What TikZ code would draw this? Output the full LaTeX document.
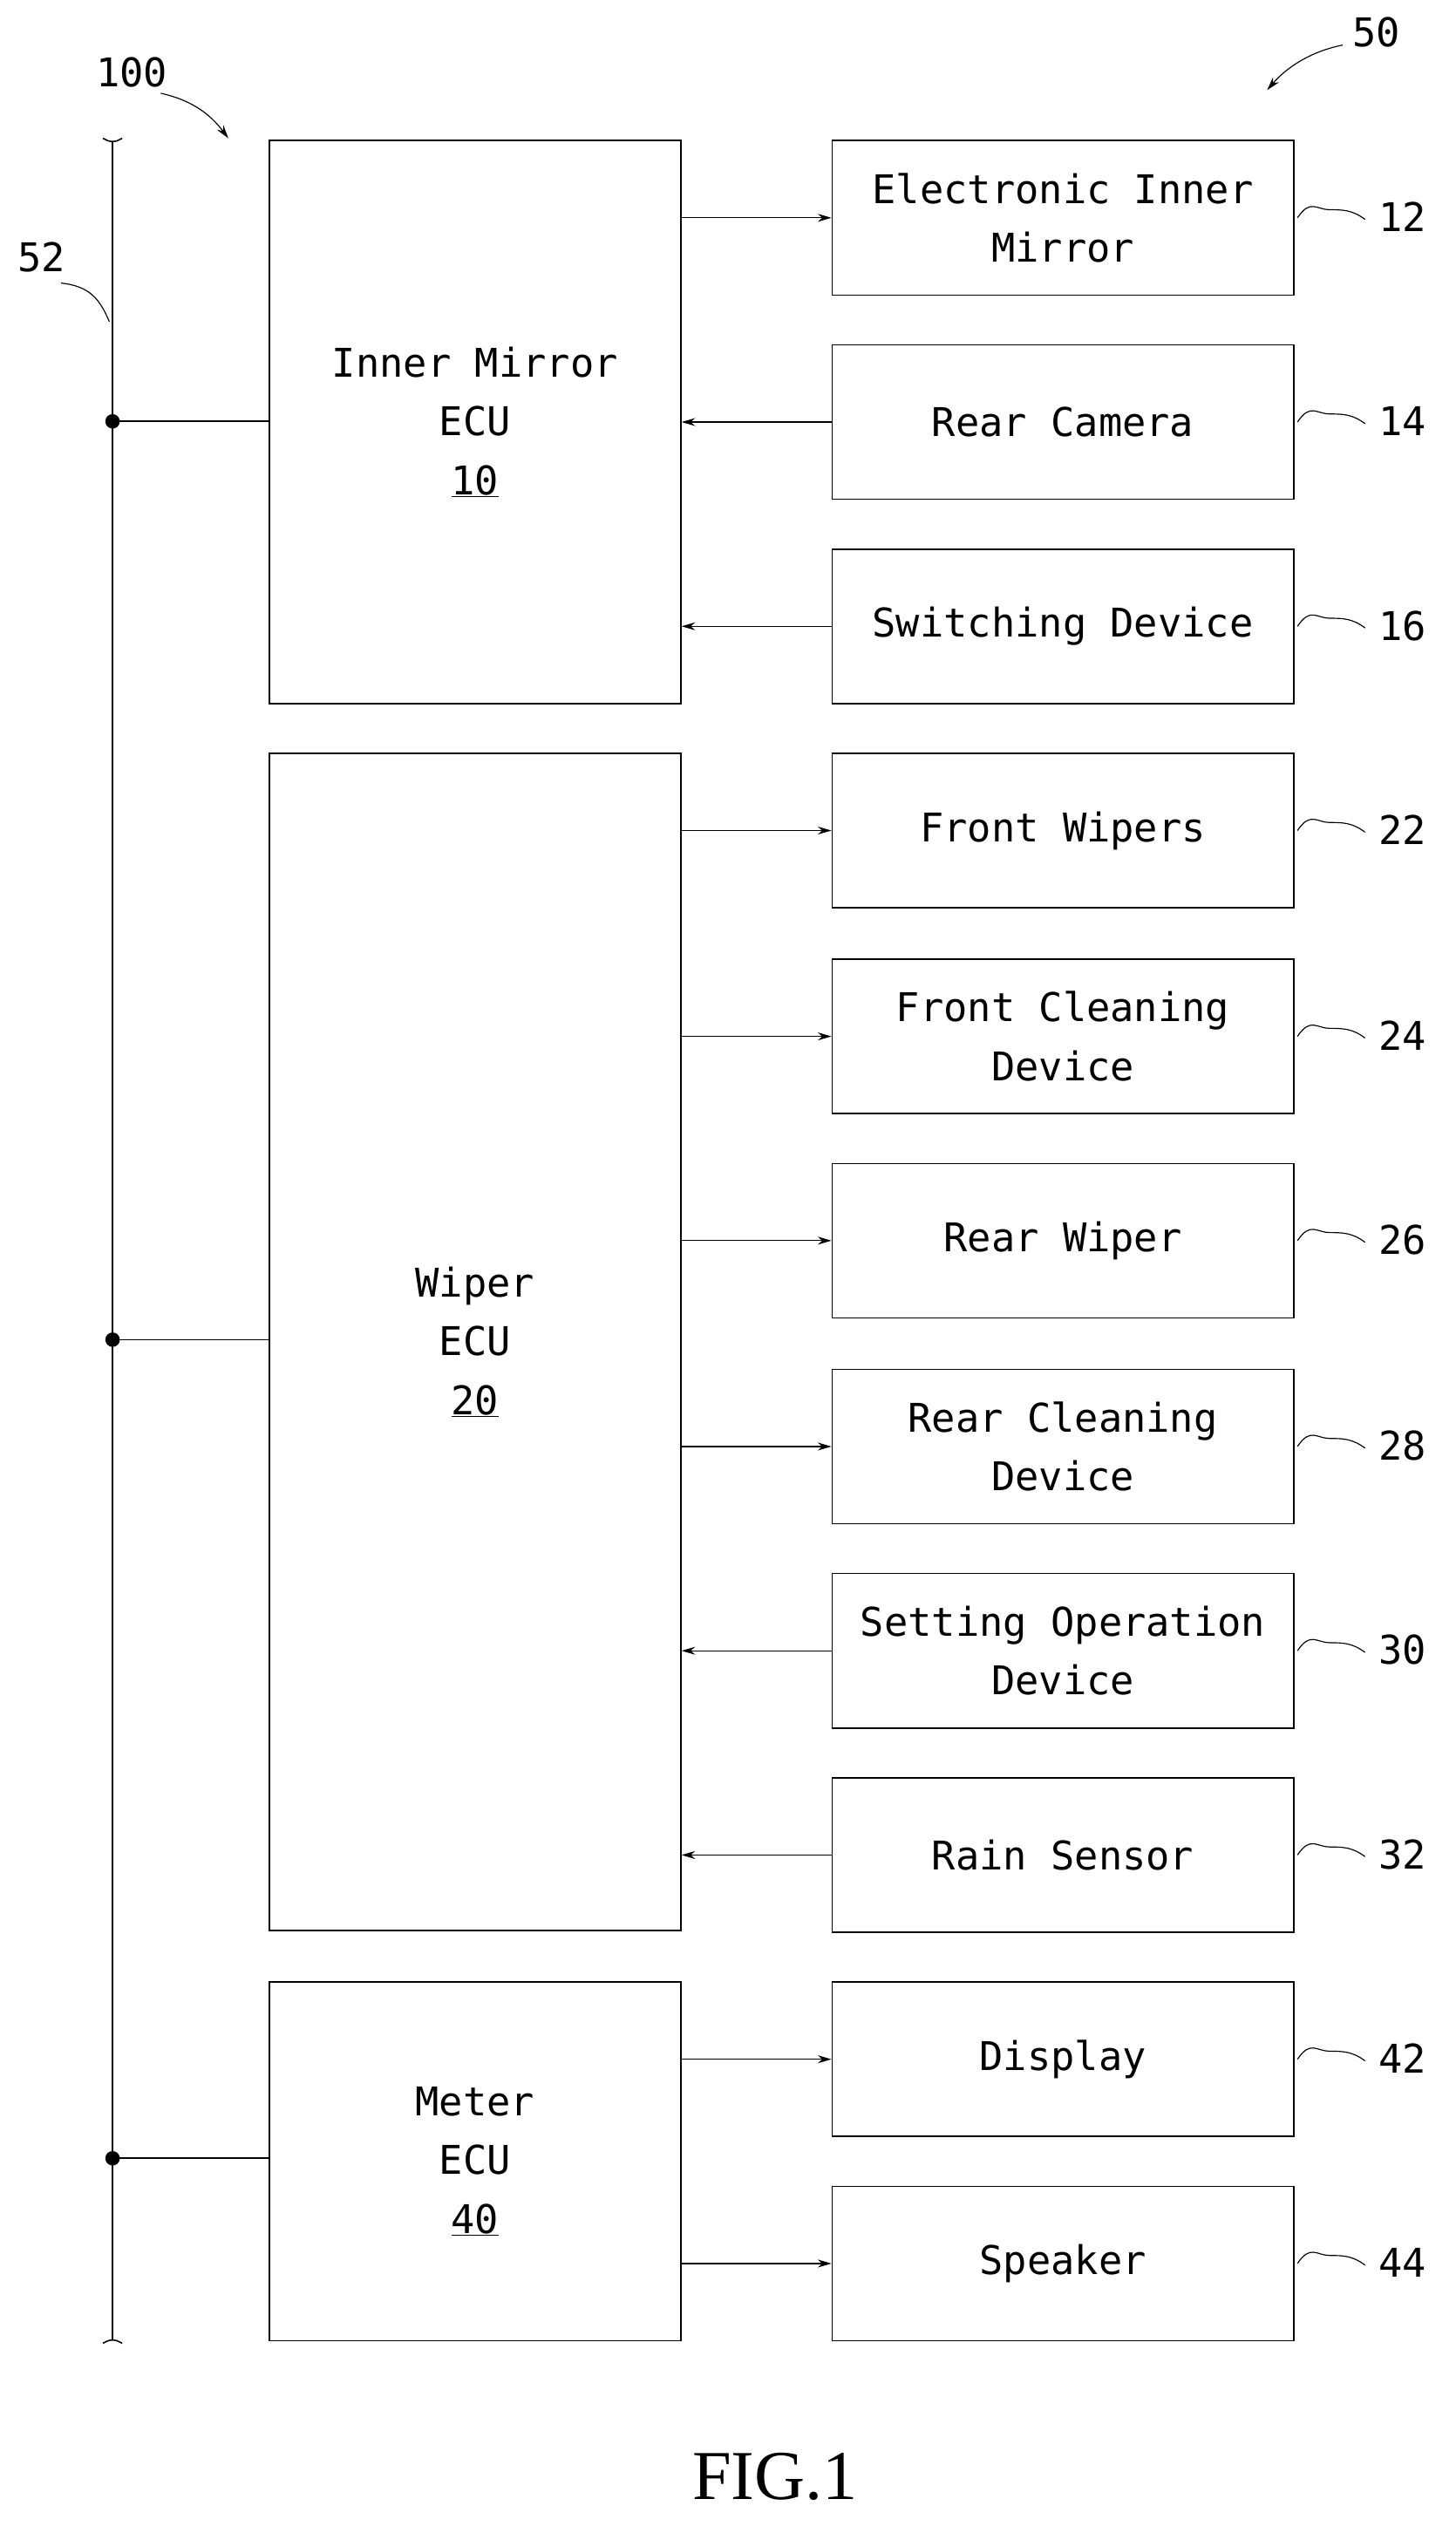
\documentclass[tikz,border=0pt]{standalone}
\usepackage{fontspec}
\setmonofont{DejaVu Sans Mono}
\usetikzlibrary{arrows.meta}
\begin{document}
\begin{tikzpicture}[x=0.05cm,y=-0.05cm,
  box/.style={draw,line width=1.2pt,anchor=north west,inner sep=0pt,align=center,font=\ttfamily\fontsize{35}{52}\selectfont},
  arr/.style={-{Stealth[length=12pt,width=7pt]},line width=0.9pt},
  lbl/.style={font=\ttfamily\fontsize{35}{40}\selectfont},
  wire/.style={line width=1.2pt}]
\useasboundingbox (0,0) rectangle (905,1575);
% bus
\coordinate (btop) at (70,88); \coordinate (bbot) at (70,1455);
\draw[wire] (btop) -- (bbot);
\draw[wire] (64,86) .. controls (68,88) .. (70,88) .. controls (72,88) .. (76,86);
\draw[wire] (64,1457) .. controls (68,1455) .. (70,1455) .. controls (72,1455) .. (76,1457);
% ECUs
\node[box,minimum width=256*0.05cm,minimum height=350*0.05cm] (e10) at (167,87) {Inner Mirror\\ECU\\\underline{10}};
\node[box,minimum width=256*0.05cm,minimum height=732*0.05cm] (e20) at (167,468) {Wiper\\ECU\\\underline{20}};
\node[box,minimum width=256*0.05cm,minimum height=223*0.05cm] (e40) at (167,1232) {Meter\\ECU\\\underline{40}};
\foreach \n/\y in {e10/262,e20/833,e40/1342}{
  \coordinate (d\n) at (70,\y);
  \fill (d\n) circle (4.5);
  \draw[wire] (d\n) -- (\n.west |- d\n);
}
% devices
\foreach \id/\y/\t/\e/\dir in {
 12/87/{Electronic Inner\\Mirror}/e10/r,
 14/214/{Rear Camera}/e10/l,
 16/341/{Switching Device}/e10/l,
 22/468/{Front Wipers}/e20/r,
 24/596/{Front Cleaning\\Device}/e20/r,
 26/723/{Rear Wiper}/e20/r,
 28/851/{Rear Cleaning\\Device}/e20/r,
 30/978/{Setting Operation\\Device}/e20/l,
 32/1105/{Rain Sensor}/e20/l,
 42/1232/{Display}/e40/r,
 44/1359/{Speaker}/e40/r}{
  \node[box,minimum width=287*0.05cm,minimum height=96*0.05cm] (d\id) at (517,\y) {\t};
  \coordinate (s\id) at (\e.east |- d\id.west);
  \if r\dir \draw[arr] (s\id) -- (d\id.west); \else \draw[arr] (d\id.west) -- (s\id); \fi
  \node[lbl,anchor=west] (l\id) at (855,\y+48) {\id};
  \draw[line width=0.9pt] (d\id.east) ++(2,0) .. controls +(8,-12) and +(-8,0) .. ++(20,-5) .. controls +(8,0) and +(-8,-6) .. ++(22,6);
}
% refs
\node[lbl] (n100) at (82,45) {100};
\draw[arr] (100,58) .. controls (118,62) and (130,70) .. (142,86);
\node[lbl] (n50) at (856,20) {50};
\draw[arr] (835,28) .. controls (815,32) and (800,42) .. (788,56);
\node[lbl] (n52) at (26,160) {52};
\draw[line width=0.9pt] (38,176) .. controls (56,178) and (62,186) .. (68,200);
\node[font=\fontspec{Liberation Serif}\fontsize{62}{70}\selectfont] (fig) at (482,1540) {FIG.1};
\end{tikzpicture}
\end{document}
